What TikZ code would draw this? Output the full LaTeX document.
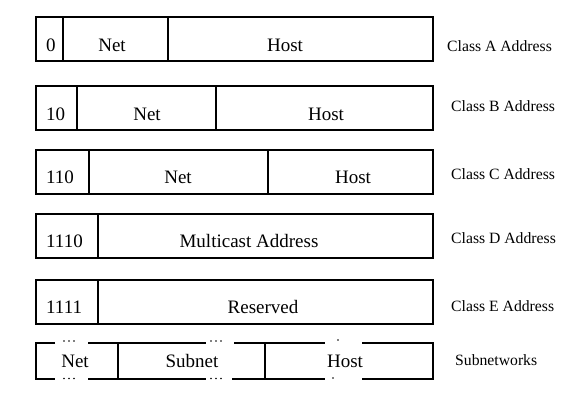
\documentclass[tikz,border=0pt]{standalone}
\usepackage{fontspec}
\setmainfont{Liberation Serif}
\begin{document}
\begin{tikzpicture}[x=1pt,y=-1pt,
  boxline/.style={line width=2.3pt, line join=miter},
  celltext/.style={font=\fontsize{19}{19}\selectfont, anchor=base, inner sep=0pt},
  bitstext/.style={font=\fontsize{19}{19}\selectfont, anchor=base west, inner sep=0pt},
  classlabel/.style={font=\fontsize{15.7}{16}\selectfont, anchor=base west, inner sep=0pt},
  dotmark/.style={fill=black, draw=none}]
\useasboundingbox (0,0) rectangle (576,407);
% Class A
\draw[boxline] (36,17) rectangle (433,61);
\draw[boxline] (63,17) -- (63,61) (168,17) -- (168,61);
\node[bitstext] (a0) at (46,51) {0};
\node[celltext] (anet) at (112,51) {Net};
\node[celltext] (ahost) at (285,51) {Host};
\node[classlabel] (alab) at (447,51) {Class A Address};
% Class B
\draw[boxline] (36,86) rectangle (433,130);
\draw[boxline] (77,86) -- (77,130) (216,86) -- (216,130);
\node[bitstext] (b0) at (46,120) {10};
\node[celltext] (bnet) at (147,120) {Net};
\node[celltext] (bhost) at (326,120) {Host};
\node[classlabel] (blab) at (451,111) {Class B Address};
% Class C
\draw[boxline] (36,150) rectangle (433,194);
\draw[boxline] (89,150) -- (89,194) (268,150) -- (268,194);
\node[bitstext] (c0) at (46,183) {110};
\node[celltext] (cnet) at (178,183) {Net};
\node[celltext] (chost) at (353,183) {Host};
\node[classlabel] (clab) at (451,179) {Class C Address};
% Class D
\draw[boxline] (36,214) rectangle (433,258);
\draw[boxline] (98,214) -- (98,258);
\node[bitstext] (d0) at (46,247) {1110};
\node[celltext] (dmc) at (249,247) {Multicast Address};
\node[classlabel] (dlab) at (451,243) {Class D Address};
% Class E
\draw[boxline] (36,280) rectangle (433,324);
\draw[boxline] (98,280) -- (98,324);
\node[bitstext] (e0) at (46,313) {1111};
\node[celltext] (eres) at (263,313) {Reserved};
\node[classlabel] (elab) at (451,311) {Class E Address};
% Subnetworks
\draw[boxline] (55,343) -- (36,343) -- (36,379) -- (55,379);
\draw[boxline] (88,343) -- (206,343);
\draw[boxline] (88,379) -- (206,379);
\draw[boxline] (234,343) -- (325,343);
\draw[boxline] (232,379) -- (325,379);
\draw[boxline] (362,343) -- (433,343) -- (433,379) -- (362,379);
\draw[boxline] (118,343) -- (118,379) (265,343) -- (265,379);
\foreach \x in {64,69,74,211,216,221} {
  \fill[dotmark] (\x,341) circle (0.9);
  \fill[dotmark] (\x,378.5) circle (0.9);
}
\fill[dotmark] (338,340) circle (0.9);
\fill[dotmark] (333,378) circle (0.9);
\node[celltext] (snet) at (75,367) {Net};
\node[celltext] (ssub) at (192,367) {Subnet};
\node[celltext] (shost) at (345,367) {Host};
\node[classlabel] (slab) at (455,365) {Subnetworks};
\end{tikzpicture}
\end{document}
